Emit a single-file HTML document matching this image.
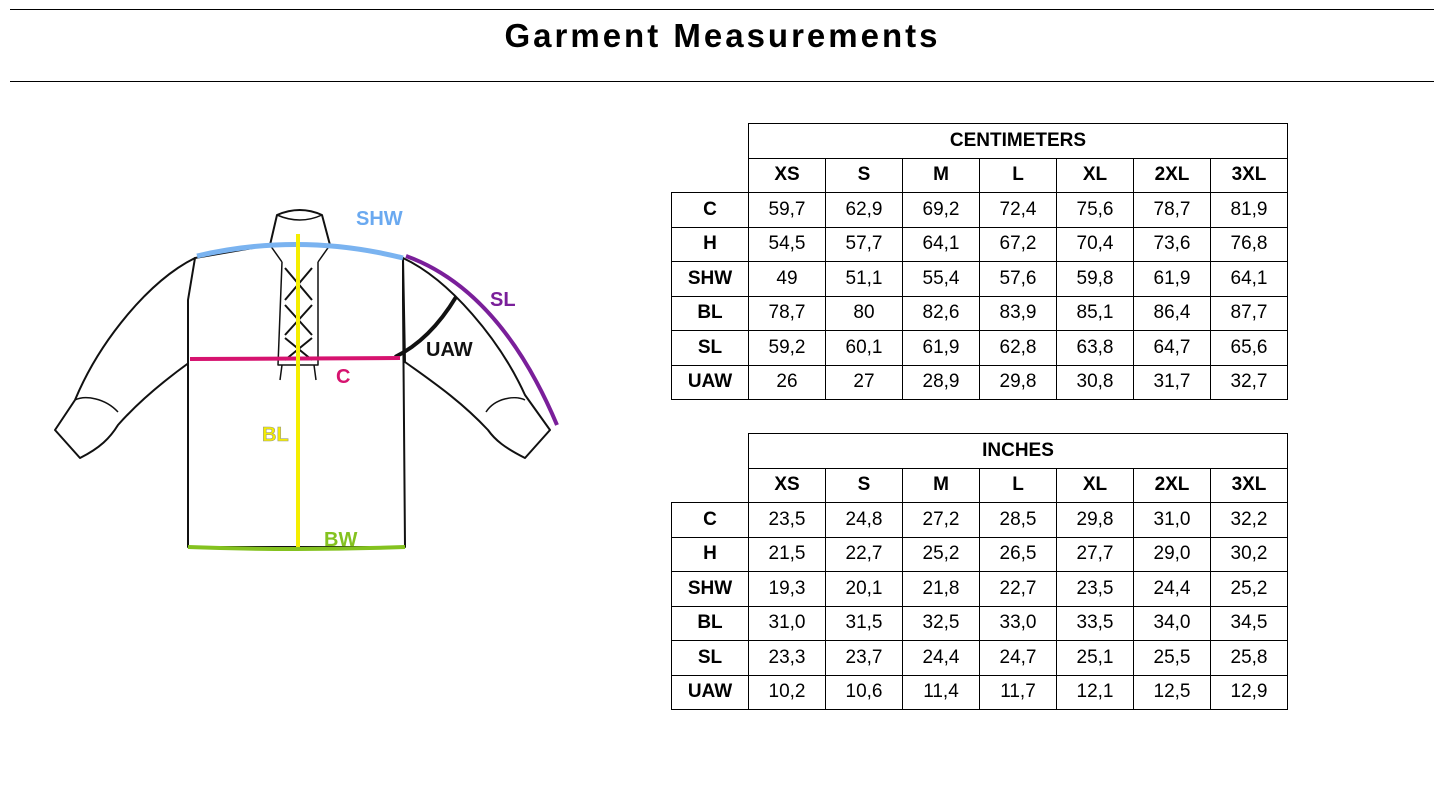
<!DOCTYPE html>
<html><head><meta charset="utf-8"><style>
body{margin:0;width:1445px;height:788px;background:#fff;position:relative;font-family:"Liberation Sans",sans-serif;overflow:hidden}
.hl{position:absolute;left:10px;width:1424px;height:1px;background:#000}
h1{position:absolute;top:17px;left:0;width:1445px;text-align:center;margin:0;font:bold 33px "Liberation Sans",sans-serif;letter-spacing:3px}
table{position:absolute;left:671px;border-collapse:collapse;font-family:"Liberation Sans",sans-serif;font-size:19px}
td{border:1px solid #000;width:76px;height:33.5px;padding:0;text-align:center}
td.f{width:76px;font-weight:bold}
tr.hd td{font-weight:bold}
td.e{border:none}
</style></head><body>
<div class="hl" style="top:9px"></div>
<h1>Garment Measurements</h1>
<div class="hl" style="top:81px"></div>

<svg width="1445" height="788" style="position:absolute;left:0;top:0">
<g fill="#fff" stroke="#111" stroke-width="2" stroke-linejoin="round">
<path d="M195,258 C150,280 100,340 75,400 L55,430 L80,458 C100,448 110,438 118,425 C140,400 165,380 190,362 Z"/>
<path d="M403,258 C450,280 500,340 525,395 L550,430 L525,458 C505,448 495,440 488,430 C460,400 430,380 405,362 Z"/>
<path d="M195,258 L188,300 L188,547 L405,547 L403,300 L403,258 L330,245 L322,215 Q300,205 277,215 L270,245 Z"/>
<path d="M277,215 Q300,225 322,215 M270,245 L282,262 M330,245 L318,262 M282,262 L278,365 L318,365 L318,262 M282,365 L280,380 M314,365 L316,380" fill="none" stroke-width="1.5"/>
<path d="M285,268 L312,300 M312,268 L285,300 M285,305 L312,335 M312,305 L285,335 M285,338 L312,360 M312,338 L285,360" fill="none" stroke-width="2"/>
<path d="M75,400 C85,395 105,398 118,412 M525,400 C515,395 495,398 486,412" fill="none" stroke-width="1.5"/>
</g>
<path d="M197,256 Q300,232 403,258" fill="none" stroke="#7ab3f0" stroke-width="5"/>
<path d="M406,256 Q500,290 557,425" fill="none" stroke="#7a1f9a" stroke-width="4"/>
<path d="M395,357 Q430,340 456,297" fill="none" stroke="#111" stroke-width="4"/>
<line x1="190" y1="359" x2="400" y2="358" stroke="#d6136f" stroke-width="4"/>
<line x1="298" y1="234" x2="298" y2="548" stroke="#f5ee00" stroke-width="4"/>
<path d="M188,547 Q296,551 405,547" fill="none" stroke="#84c21f" stroke-width="4"/>
<g font-family="Liberation Sans" font-weight="bold" font-size="20">
<text x="356" y="225" fill="#6aa9f0">SHW</text>
<text x="490" y="306" fill="#7a1f9a">SL</text>
<text x="426" y="356" fill="#111">UAW</text>
<text x="336" y="383" fill="#d6136f">C</text>
<text x="262" y="441" fill="#f5ee00" stroke="#998" stroke-width=".6">BL</text>
<text x="324" y="546" fill="#84c21f">BW</text>
</g>
</svg>

<table style="top:123px">
<tr class="hd"><td class="e"></td><td colspan="7">CENTIMETERS</td></tr>
<tr class="hd"><td class="e"></td><td>XS</td><td>S</td><td>M</td><td>L</td><td>XL</td><td>2XL</td><td>3XL</td></tr>
<tr><td class="f">C</td><td>59,7</td><td>62,9</td><td>69,2</td><td>72,4</td><td>75,6</td><td>78,7</td><td>81,9</td></tr>
<tr><td class="f">H</td><td>54,5</td><td>57,7</td><td>64,1</td><td>67,2</td><td>70,4</td><td>73,6</td><td>76,8</td></tr>
<tr><td class="f">SHW</td><td>49</td><td>51,1</td><td>55,4</td><td>57,6</td><td>59,8</td><td>61,9</td><td>64,1</td></tr>
<tr><td class="f">BL</td><td>78,7</td><td>80</td><td>82,6</td><td>83,9</td><td>85,1</td><td>86,4</td><td>87,7</td></tr>
<tr><td class="f">SL</td><td>59,2</td><td>60,1</td><td>61,9</td><td>62,8</td><td>63,8</td><td>64,7</td><td>65,6</td></tr>
<tr><td class="f">UAW</td><td>26</td><td>27</td><td>28,9</td><td>29,8</td><td>30,8</td><td>31,7</td><td>32,7</td></tr>
</table>

<table style="top:433px">
<tr class="hd"><td class="e"></td><td colspan="7">INCHES</td></tr>
<tr class="hd"><td class="e"></td><td>XS</td><td>S</td><td>M</td><td>L</td><td>XL</td><td>2XL</td><td>3XL</td></tr>
<tr><td class="f">C</td><td>23,5</td><td>24,8</td><td>27,2</td><td>28,5</td><td>29,8</td><td>31,0</td><td>32,2</td></tr>
<tr><td class="f">H</td><td>21,5</td><td>22,7</td><td>25,2</td><td>26,5</td><td>27,7</td><td>29,0</td><td>30,2</td></tr>
<tr><td class="f">SHW</td><td>19,3</td><td>20,1</td><td>21,8</td><td>22,7</td><td>23,5</td><td>24,4</td><td>25,2</td></tr>
<tr><td class="f">BL</td><td>31,0</td><td>31,5</td><td>32,5</td><td>33,0</td><td>33,5</td><td>34,0</td><td>34,5</td></tr>
<tr><td class="f">SL</td><td>23,3</td><td>23,7</td><td>24,4</td><td>24,7</td><td>25,1</td><td>25,5</td><td>25,8</td></tr>
<tr><td class="f">UAW</td><td>10,2</td><td>10,6</td><td>11,4</td><td>11,7</td><td>12,1</td><td>12,5</td><td>12,9</td></tr>
</table>
</body></html>
